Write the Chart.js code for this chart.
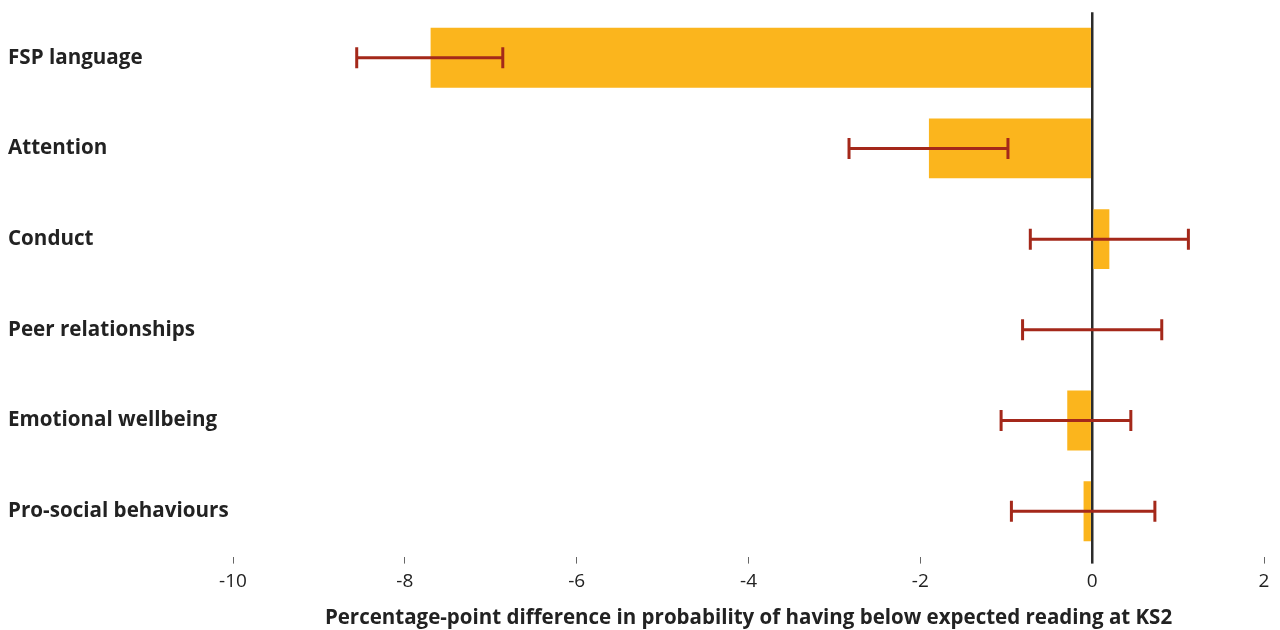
<!DOCTYPE html>
<html>
<head>
<meta charset="utf-8">
<script src="https://cdn.jsdelivr.net/npm/chart.js@4"></script>
<style>
  html, body { margin: 0; padding: 0; background: #fff; }
  #wrap { width: 1280px; height: 630px; }
</style>
</head>
<body>
<div id="wrap"><canvas id="chart-bar"></canvas></div>
<script>
const categories = ['FSP language', 'Attention', 'Conduct', 'Peer relationships', 'Emotional wellbeing', 'Pro-social behaviours'];
const estimates = [-7.7, -1.9, 0.2, 0.0, -0.29, -0.1];
const lowerCI = [-8.56, -2.83, -0.72, -0.81, -1.06, -0.94];
const upperCI = [-6.86, -0.98, 1.12, 0.81, 0.45, 0.73];
const xTicks = [-10, -8, -6, -4, -2, 0, 2];

const textColor = '#222222';
const errorColor = '#a4281a';

const errorBars = {
  id: 'errorBars',
  afterDatasetsDraw(chart) {
    const { ctx, scales: { x, y } } = chart;
    ctx.save();
    ctx.strokeStyle = errorColor;
    ctx.lineWidth = 3;
    categories.forEach((_, i) => {
      const py = y.getPixelForValue(i);
      const x1 = x.getPixelForValue(lowerCI[i]);
      const x2 = x.getPixelForValue(upperCI[i]);
      ctx.beginPath();
      ctx.moveTo(x1, py);
      ctx.lineTo(x2, py);
      ctx.moveTo(x1, py - 10.5);
      ctx.lineTo(x1, py + 10.5);
      ctx.moveTo(x2, py - 10.5);
      ctx.lineTo(x2, py + 10.5);
      ctx.stroke();
    });
    ctx.restore();
  }
};

new Chart(document.getElementById('chart-bar'), {
  type: 'bar',
  data: {
    labels: categories,
    datasets: [{
      data: estimates,
      backgroundColor: '#fbb51d',
      borderWidth: 0,
      barPercentage: 0.66,
      categoryPercentage: 1
    }]
  },
  options: {
    indexAxis: 'y',
    responsive: true,
    maintainAspectRatio: false,
    animation: false,
    layout: { padding: { top: 10, left: 8, right: 16, bottom: 0 } },
    plugins: {
      legend: { display: false },
      tooltip: { enabled: false }
    },
    scales: {
      x: {
        min: -10,
        max: 2,
        afterBuildTicks: scale => { scale.ticks = xTicks.map(v => ({ value: v })); },
        border: { display: false },
        grid: {
          drawOnChartArea: true,
          color: c => (c.tick && c.tick.value === 0 ? '#2b2b2b' : 'transparent'),
          lineWidth: c => (c.tick && c.tick.value === 0 ? 2.5 : 1),
          tickColor: c => (c.tick && c.tick.value === 0 ? '#2b2b2b' : '#666666'),
          tickWidth: c => (c.tick && c.tick.value === 0 ? 2.5 : 1),
          tickLength: 7
        },
        ticks: {
          color: textColor,
          padding: 7,
          font: { family: 'Open Sans', size: 19 }
        },
        title: {
          display: true,
          text: 'Percentage-point difference in probability of having below expected reading at KS2',
          color: textColor,
          padding: { top: 5, bottom: 0 },
          font: { family: 'Open Sans', size: 20.5, weight: 'bold' }
        }
      },
      y: {
        border: { display: false },
        grid: { display: false },
        afterFit: scale => { scale.width = 225; },
        ticks: {
          crossAlign: 'far',
          color: textColor,
          padding: 0,
          font: { family: 'Open Sans', size: 20.6, weight: 'bold' }
        }
      }
    }
  },
  plugins: [errorBars]
});
</script>
</body>
</html>
